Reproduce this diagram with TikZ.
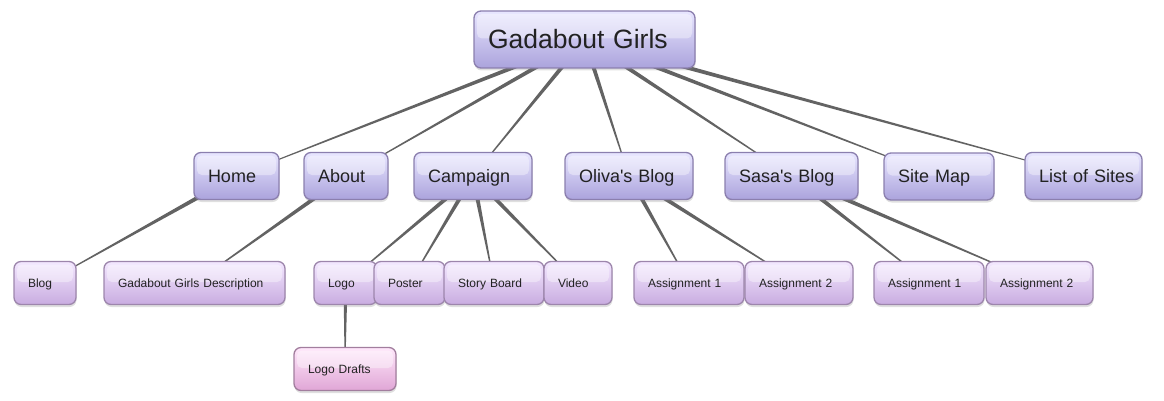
\documentclass[tikz,border=0pt]{standalone}
\usepackage{fontspec}
\setmainfont{Liberation Sans}
\usetikzlibrary{calc,shadows,backgrounds}
\definecolor{txt}{HTML}{222222}
\definecolor{linkc}{HTML}{636363}
\definecolor{lAt}{HTML}{E8E6FF}
\definecolor{lAb}{HTML}{ABA3DC}
\definecolor{lAd}{HTML}{8B7FAE}
\definecolor{lBt}{HTML}{F4E8FF}
\definecolor{lBb}{HTML}{C8ACE0}
\definecolor{lBd}{HTML}{9D86AC}
\definecolor{lCt}{HTML}{FFE8FB}
\definecolor{lCb}{HTML}{E0A6D6}
\definecolor{lCd}{HTML}{A27E9E}
\tikzset{
  bx/.style={rounded corners=7pt, line width=1.3pt, inner xsep=14pt, inner ysep=0pt,
    align=left, text=txt, text depth=0pt,
    drop shadow={shadow xshift=0.5pt, shadow yshift=-2.5pt, opacity=0.25},
    path picture={\fill[white,opacity=0.38,rounded corners=5pt]
      ([shift={(3pt,-3pt)}]path picture bounding box.north west) rectangle
      ([shift={(-3pt,1pt)}]path picture bounding box.east);}},
  topbox/.style={bx, draw=lAd, top color=lAt, bottom color=lAb,
    font=\fontsize{26.5}{28}\selectfont, minimum height=57pt, text height=19pt},
  lvtwo/.style={bx, draw=lAd, top color=lAt, bottom color=lAb,
    font=\fontsize{18}{20}\selectfont, minimum height=47pt, text height=12.9pt},
  lvthree/.style={bx, draw=lBd, top color=lBt, bottom color=lBb,
    font=\fontsize{12}{14}\selectfont, minimum height=43pt, text height=8.6pt},
  lvfour/.style={bx, draw=lCd, top color=lCt, bottom color=lCb,
    font=\fontsize{12}{14}\selectfont, minimum height=43pt, text height=8.6pt},
}
% tapered connector: parent, child, half width at parent
\newcommand\taperlink[3]{%
  \fill[linkc] let \p1=(#1.center), \p2=(#2.center),
     \n1={atan2(\y2-\y1,\x2-\x1)+90} in
     ($(\p1)+(\n1:#3)$) -- ($(\p2)+(\n1:0.3pt)$) --
     ($(\p2)-(\n1:0.3pt)$) -- ($(\p1)-(\n1:#3)$) -- cycle;}
\begin{document}
\begin{tikzpicture}[x=1pt,y=-1pt]
\useasboundingbox (0,0) rectangle (1164,401);
% level 1
\node[topbox, text width=193pt] (gg) at (584.5,39.5) {\mbox{Gadabout Girls}};
% level 2
\node[lvtwo, text width=57pt] (home) at (236.5,176) {\mbox{Home}};
\node[lvtwo, text width=56pt] (about) at (346,176) {\mbox{About}};
\node[lvtwo, text width=90pt] (camp) at (473,176) {\mbox{Campaign}};
\node[lvtwo, text width=100pt] (oliva) at (629,176) {\mbox{Oliva\textquotesingle s Blog}};
\node[lvtwo, text width=105pt] (sasa) at (791.5,176) {\mbox{Sasa\textquotesingle s Blog}};
\node[lvtwo, text width=82pt] (smap) at (939,176.5) {\mbox{Site Map}};
\node[lvtwo, text width=89pt] (list) at (1083.5,176) {\mbox{List of Sites}};
% level 3
\node[lvthree, text width=34pt] (blog) at (45,283) {\mbox{Blog}};
\node[lvthree, text width=153pt] (desc) at (194.5,283) {\mbox{Gadabout Girls Description}};
\node[lvthree, text width=35pt] (logo) at (345.5,283) {\mbox{Logo}};
\node[lvthree, text width=43pt] (poster) at (409.5,283) {\mbox{Poster}};
\node[lvthree, text width=72pt] (story) at (494,283) {\mbox{Story Board}};
\node[lvthree, text width=40pt] (video) at (578,283) {\mbox{Video}};
\node[lvthree, text width=82pt] (oa) at (689,283) {\mbox{Assignment 1}};
\node[lvthree, text width=80pt] (ob) at (799,283) {\mbox{Assignment 2}};
\node[lvthree, text width=82pt] (sa) at (929,283) {\mbox{Assignment 1}};
\node[lvthree, text width=79pt] (sb) at (1039.5,283) {\mbox{Assignment 2}};
% level 4
\node[lvfour, text width=74pt] (drafts) at (345,369) {\mbox{Logo Drafts}};
\begin{scope}[on background layer]
\foreach \c in {home,about,camp,oliva,sasa,smap,list}{\taperlink{gg}{\c}{2.4pt}}
\taperlink{home}{blog}{2.4pt}
\taperlink{about}{desc}{2.4pt}
\foreach \c in {logo,poster,story,video}{\taperlink{camp}{\c}{2.4pt}}
\foreach \c in {oa,ob}{\taperlink{oliva}{\c}{2.4pt}}
\foreach \c in {sa,sb}{\taperlink{sasa}{\c}{2.4pt}}
\taperlink{logo}{drafts}{2pt}
\end{scope}
\end{tikzpicture}
\end{document}
